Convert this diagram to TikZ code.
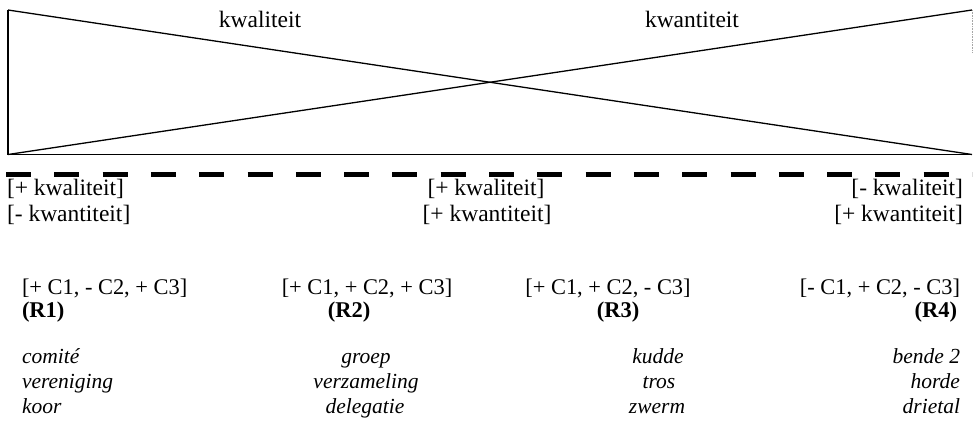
\documentclass[tikz,border=0pt]{standalone}
\usepackage{fontspec}
\setmainfont{Liberation Serif}
\begin{document}
\begin{tikzpicture}[x=1pt,y=-1pt,
  every node/.style={inner sep=0pt, outer sep=0pt},
  biglab/.style={font=\fontsize{23.5}{27}\selectfont},
  featlab/.style={font=\fontsize{22.4}{25}\selectfont},
  rlab/.style={font=\fontsize{22.5}{25}\selectfont\bfseries},
  wordlab/.style={font=\fontsize{21.5}{25}\selectfont\itshape},
  thinline/.style={draw=black, line width=1.3pt},
  bigdash/.style={draw=black, line width=5.5pt, dash pattern=on 25pt off 23.3pt}]
\useasboundingbox (0,0) rectangle (973,428);
% triangle frame
\coordinate (tl) at (8,10);
\coordinate (bl) at (8,154.5);
\coordinate (tr) at (972,10);
\coordinate (br) at (972,154.5);
\draw[thinline] (tl) -- (bl) -- (br);
\draw[thinline] (tl) -- (br);
\draw[thinline] (bl) -- (tr);
\draw[black!35, line width=0.6pt, densely dotted] (tr) -- (972,52);
% dashed line
\coordinate (dl) at (6,174.5);
\coordinate (dr) at (972,174.5);
\draw[bigdash] (dl) -- (dr);
% top labels
\node[biglab, anchor=base] (kwal) at (260,28) {kwaliteit};
\node[biglab, anchor=base] (kwan) at (692,28) {kwantiteit};
% feature labels
\node[biglab, anchor=base west] (l1) at (7,195) {[+ kwaliteit]};
\node[biglab, anchor=base west] (l2) at (7,221) {[- kwantiteit]};
\node[biglab, anchor=base] (m1) at (486,195) {[+ kwaliteit]};
\node[biglab, anchor=base] (m2) at (487,221) {[+ kwantiteit]};
\node[biglab, anchor=base east] (r1) at (963,195) {[- kwaliteit]};
\node[biglab, anchor=base east] (r2) at (963,221) {[+ kwantiteit]};
% C-features
\node[featlab, anchor=base west] (c1) at (22,294) {[+ C1, - C2, + C3]};
\node[featlab, anchor=base] (c2) at (367,294) {[+ C1, + C2, + C3]};
\node[featlab, anchor=base] (c3) at (608,294) {[+ C1, + C2, - C3]};
\node[featlab, anchor=base east] (c4) at (960,294) {[- C1, + C2, - C3]};
% R labels
\node[rlab, anchor=base west] (R1) at (22,317) {(R1)};
\node[rlab, anchor=base] (R2) at (349,317) {(R2)};
\node[rlab, anchor=base] (R3) at (618,317) {(R3)};
\node[rlab, anchor=base east] (R4) at (957,317) {(R4)};
% words
\node[wordlab, anchor=base west] (w11) at (22,363) {comité};
\node[wordlab, anchor=base west] (w12) at (22,388) {vereniging};
\node[wordlab, anchor=base west] (w13) at (22,413) {koor};
\node[wordlab, anchor=base] (w21) at (366,363) {groep};
\node[wordlab, anchor=base] (w22) at (366,388) {verzameling};
\node[wordlab, anchor=base] (w23) at (365,413) {delegatie};
\node[wordlab, anchor=base] (w31) at (658,363) {kudde};
\node[wordlab, anchor=base] (w32) at (659,388) {tros};
\node[wordlab, anchor=base] (w33) at (657,413) {zwerm};
\node[wordlab, anchor=base east] (w41) at (960,363) {bende 2};
\node[wordlab, anchor=base east] (w42) at (960,388) {horde};
\node[wordlab, anchor=base east] (w43) at (960,413) {drietal};
\end{tikzpicture}
\end{document}
